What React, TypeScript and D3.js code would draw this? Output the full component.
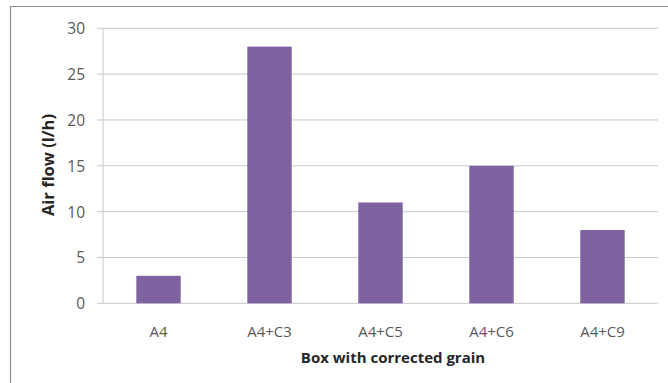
import React from "react";
import * as d3 from "d3";

const categories: string[] = ["A4", "A4+C3", "A4+C5", "A4+C6", "A4+C9"];
const airFlow: number[] = [3, 28, 11, 15, 8];
const yTicks: number[] = [0, 5, 10, 15, 20, 25, 30];

const W = 668;
const H = 383;
const left = 103;
const right = 658;
const top = 28.3;
const bottom = 303.3;

export default function App() {
  const x = d3
    .scaleBand<string>()
    .domain(categories)
    .range([left, right])
    .paddingInner(0.6)
    .paddingOuter(0.3);
  const y = d3.scaleLinear().domain([0, 30]).range([bottom, top]);
  const font = "'Open Sans', 'Liberation Sans', sans-serif";

  return (
    <svg
      width={W}
      height={H}
      style={{ position: "absolute", left: 0, top: 0, background: "#fff" }}
      fontFamily={font}
    >
      {/* chart frame, open at right and bottom */}
      <path d={`M10.5,${H} V6.5 H${W}`} fill="none" stroke="#8c8c8c" strokeWidth={1.2} />
      {/* gridlines and tick marks */}
      {yTicks.map((t) => (
        <line
          key={t}
          x1={left - 6}
          x2={right}
          y1={y(t)}
          y2={y(t)}
          stroke="#c8c8c8"
          strokeWidth={1}
        />
      ))}
      <line x1={left} x2={left} y1={top} y2={bottom} stroke="#c8c8c8" strokeWidth={1} />
      {/* bars */}
      {categories.map((c, i) => (
        <rect
          key={c}
          x={x(c)}
          y={y(airFlow[i])}
          width={x.bandwidth()}
          height={bottom - y(airFlow[i])}
          fill="#7f63a1"
        />
      ))}
      {/* y tick labels */}
      {yTicks.map((t) => (
        <text
          key={t}
          x={85}
          y={y(t)}
          textAnchor="end"
          dominantBaseline="central"
          fontSize={15.5}
          fill="#595959"
        >
          {t}
        </text>
      ))}
      {/* x tick labels */}
      {categories.map((c) => (
        <text
          key={c}
          x={(x(c) as number) + x.bandwidth() / 2}
          y={331}
          textAnchor="middle"
          dominantBaseline="central"
          fontSize={15}
          fill="#595959"
        >
          {c}
        </text>
      ))}
      <text
        x={393}
        y={357}
        textAnchor="middle"
        dominantBaseline="central"
        fontSize={15}
        fontWeight="bold"
        fill="#262626"
      >
        Box with corrected grain
      </text>
      <text
        transform={`translate(47,165) rotate(-90)`}
        textAnchor="middle"
        dominantBaseline="central"
        fontSize={16.5}
        fontWeight="bold"
        fill="#262626"
      >
        Air flow (l/h)
      </text>
    </svg>
  );
}
